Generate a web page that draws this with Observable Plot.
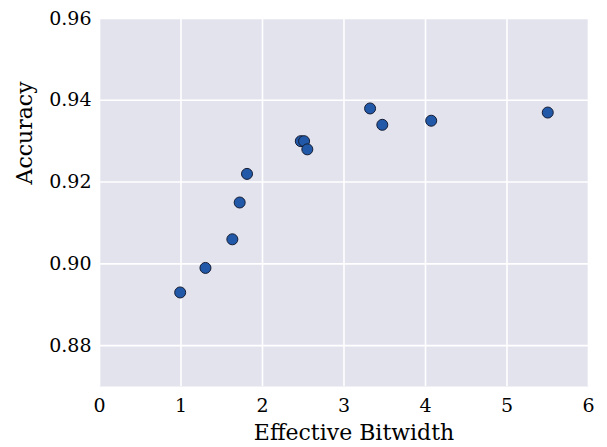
<!DOCTYPE html>
<html>
<head>
<meta charset="utf-8">
<script src="https://cdn.jsdelivr.net/npm/d3@7"></script>
<script src="https://cdn.jsdelivr.net/npm/@observablehq/plot@0.6"></script>
<style>
  html, body { margin: 0; padding: 0; background: #fff; }
  #chart svg { display: block; }
</style>
</head>
<body>
<div id="chart"></div>
<script>
const bitwidth = [0.99, 1.30, 1.63, 1.72, 1.81, 2.47, 2.51, 2.55, 3.32, 3.47, 4.07, 5.50];
const accuracy = [0.893, 0.899, 0.906, 0.915, 0.922, 0.930, 0.930, 0.928, 0.938, 0.934, 0.935, 0.937];
const xTicks = [0, 1, 2, 3, 4, 5, 6];
const yTicks = [0.88, 0.90, 0.92, 0.94, 0.96];
const xLabel = "Effective Bitwidth";
const yLabel = "Accuracy";

const data = bitwidth.map((b, i) => ({ b, a: accuracy[i] }));

const chart = Plot.plot({
  width: 607,
  height: 447,
  marginLeft: 99,
  marginRight: 19,
  marginTop: 18,
  marginBottom: 61,
  style: { fontFamily: "'DejaVu Serif', serif", fontSize: "19px", color: "#000", background: "#fff" },
  x: { domain: [0, 6], ticks: xTicks, label: null },
  y: { domain: [0.87, 0.96], ticks: yTicks, tickFormat: d3.format(".2f"), label: null },
  marks: [
    Plot.frame({ fill: "#e3e3ee", stroke: null }),
    Plot.gridX(xTicks, { stroke: "#fff", strokeOpacity: 1, strokeWidth: 1.6 }),
    Plot.gridY(yTicks, { stroke: "#fff", strokeOpacity: 1, strokeWidth: 1.6 }),
    Plot.axisX(xTicks, { tickSize: 0, tickPadding: 12, fontSize: 19, label: null }),
    Plot.axisY(yTicks, { tickSize: 0, tickPadding: 8, fontSize: 19, tickFormat: d3.format(".2f"), label: null }),
    Plot.dot(data, { x: "b", y: "a", r: 5.5, fill: "#2159a8", stroke: "#141c33", strokeWidth: 1 }),
    Plot.text([xLabel], { text: d => d, frameAnchor: "bottom", lineAnchor: "middle", dx: 10, dy: 46, fontSize: 22 }),
    Plot.text([yLabel], { text: d => d, frameAnchor: "left", lineAnchor: "middle", rotate: -90, dx: -74.5, dy: -18, fontSize: 22 })
  ]
});
document.getElementById("chart").appendChild(chart);
</script>
</body>
</html>
